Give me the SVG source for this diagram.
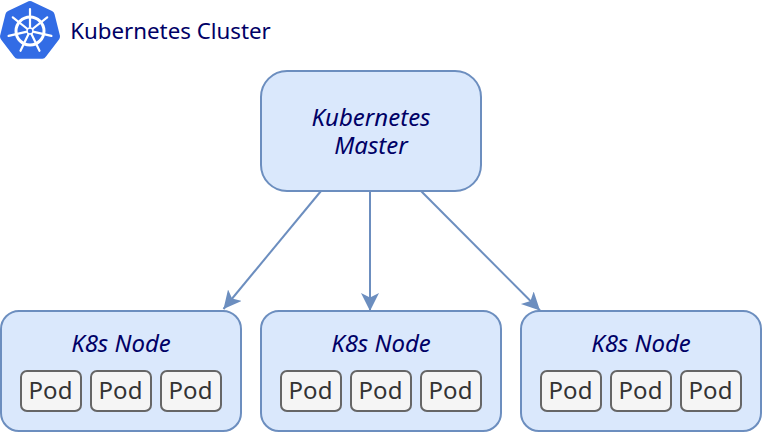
<svg xmlns="http://www.w3.org/2000/svg" width="764" height="432" viewBox="0 0 764 432">
<style>
text{font-family:"Noto Sans","Open Sans",sans-serif;text-anchor:middle;font-size:24px}
.box{fill:#dae8fc;stroke:#6c8ebf;stroke-width:2}
.pod{fill:#f5f5f5;stroke:#666;stroke-width:2}
.pt{fill:#333}
.it{font-style:italic;fill:#000066}
.c{fill:none;stroke:#6c8ebf;stroke-width:2}
.wh{fill:none;stroke:#fff;stroke-linecap:round}
</style>
<defs>
<marker id="a" markerUnits="userSpaceOnUse" markerWidth="20" markerHeight="20" refX="18" refY="9" orient="auto"><path d="M0 0L18 9L0 18L4.500 9Z" fill="#6c8ebf"/></marker>
<g id="pods">
<rect class="pod" x="21" y="371" width="60" height="40" rx="6"/><text class="pt" x="50.500" y="399">Pod</text>
<rect class="pod" x="91" y="371" width="60" height="40" rx="6"/><text class="pt" x="120.500" y="399">Pod</text>
<rect class="pod" x="161" y="371" width="60" height="40" rx="6"/><text class="pt" x="190.500" y="399">Pod</text>
</g>
</defs>
<g id="logo">
<path d="M30 1Q31.500 1 33 2L52 11Q54 12 54.500 14L60 36Q60 38 59 39.500L46 56.500Q44.500 58.700 42.500 58.700H17.500Q15.500 58.700 14 56.500L1 39.500Q0 38 0 36L5.500 14Q6 12 8 11L27 2Q28.500 1 30 1Z" fill="#326ce5"/>
<g transform="translate(0 .5)">
<circle class="wh" cx="30" cy="30.500" r="14" stroke-width="3"/>
<path class="wh" stroke-width="2.200" d="M30 26.500V8.500M33.100 28L47.200 16.800M33.900 31.400L51.400 35.400M31.700 34.100L39.500 50.300M28.300 34.100L20.500 50.300M26.100 31.400L8.600 35.400M26.900 28L12.800 16.800"/>
<circle cx="30" cy="30.500" r="3" fill="#326ce5" stroke="#fff" stroke-width="1.500"/>
</g>
</g>
<text id="title" x="170.500" y="39" style="font-size:22.300px;fill:#000066">Kubernetes Cluster</text>
<g id="connectors">
<path class="c" d="M321 191L223.500 309" marker-end="url(#a)"/>
<path class="c" d="M370 191V311" marker-end="url(#a)"/>
<path class="c" d="M421 191L540 310.500" marker-end="url(#a)"/>
</g>
<g id="master">
<rect class="box" x="261" y="71" width="220" height="120" rx="26"/>
<text class="it"><tspan x="371" y="126">Kubernetes</tspan><tspan x="371" y="154">Master</tspan></text>
</g>
<g id="node1">
<rect class="box" x="1" y="311" width="240" height="120" rx="18"/>
<text class="it" x="121" y="352">K8s Node</text>
<use href="#pods"/>
</g>
<g id="node2">
<rect class="box" x="261" y="311" width="240" height="120" rx="18"/>
<text class="it" x="381" y="352">K8s Node</text>
<use href="#pods" x="260"/>
</g>
<g id="node3">
<rect class="box" x="521" y="311" width="240" height="120" rx="18"/>
<text class="it" x="641" y="352">K8s Node</text>
<use href="#pods" x="520"/>
</g>
</svg>
